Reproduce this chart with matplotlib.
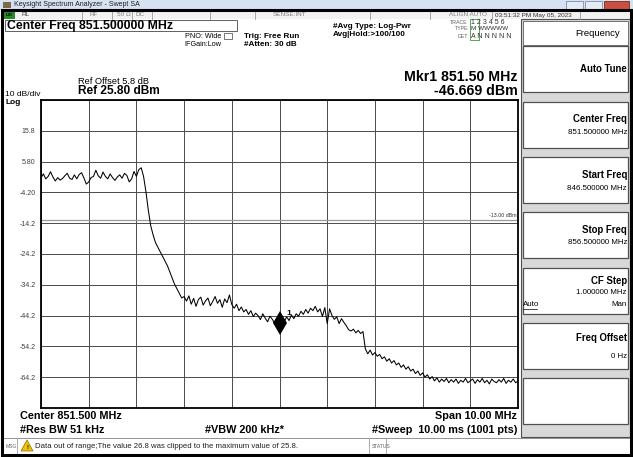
import matplotlib.pyplot as plt
from matplotlib.patches import Rectangle, Polygon
import numpy as np

W, H = 633, 457

START_MHZ = 846.5
STOP_MHZ = 856.5
REF_DBM = 25.8
DB_DIV = 10
Y_LABELS = ["", "15.8", "5.80", "-4.20", "-14.2", "-24.2", "-34.2", "-44.2", "-54.2", "-64.2", ""]
DISPLAY_LINE = -13.0
MKR_FREQ = 851.5
MKR_DBM = -46.669

# trace, 0.05 MHz steps
TRACE_DBM = [
    0.5, 1.8, 0.2, 1.0, 2.5, 0.8, -0.5, 0.6, -0.2, 0.3,
    1.2, 2.0, 0.4, 0.0, 1.5, 0.2, 1.6, 2.2, 0.5, -1.5,
    -0.8, 0.6, 1.0, 3.0, 1.2, 0.4, 2.4, 1.0, 0.2, 1.8,
    0.6, -0.3, 0.8, 1.5, 0.4, 2.0, 1.3, -0.8, 0.2, 2.6,
    1.0, 3.2, 3.8,
    1.0, -4.0, -10.0, -15.0, -18.0, -20.5, -22.0, -23.5, -25.0, -26.5,
    -28.0, -30.0, -32.0, -34.0, -35.5, -37.0, -38.5, -38.0,
    -39.5, -37.8, -40.5, -38.6, -41.2, -39.0, -38.2, -40.8, -39.4, -38.5,
    -41.0, -39.6, -38.0, -40.2, -39.0, -41.5, -38.8, -40.0, -37.5, -40.6,
    -41.8, -40.5, -42.6, -41.4, -43.0, -42.2, -43.8, -42.6, -44.5, -43.4,
    -44.2, -45.5, -43.6, -45.0, -46.2, -44.4, -45.4, -46.8, -45.2, -46.7,
    -45.0, -46.2, -44.6, -45.8, -44.0, -45.2, -43.6, -44.4, -42.8, -43.8,
    -42.2, -43.4, -41.8, -42.6, -41.2, -43.0, -42.0, -44.5, -41.6, -46.8,
    -42.0, -44.2, -45.4, -44.6, -46.8, -45.2, -46.4, -47.5, -48.8, -49.2,
    -48.6, -49.8, -49.0, -50.0, -49.4, -55.0, -56.6, -55.4, -57.0, -56.2,
    -57.4, -56.8, -58.2, -57.6, -59.0, -58.2, -59.6, -58.8, -60.2, -59.6,
    -61.0, -60.2, -61.6, -60.8, -62.2, -61.6, -63.0, -62.2, -63.6, -62.8,
    -64.2, -63.4, -64.8, -64.0, -65.4, -64.4, -65.8, -64.8, -65.6, -64.6,
    -66.0, -65.0, -65.8, -64.8, -66.2, -65.2, -65.8, -64.6, -66.0, -65.4,
    -64.8, -66.2, -65.0, -65.8, -64.6, -66.0, -65.2, -66.4, -64.8, -65.6,
    -66.0, -65.0, -65.8, -64.6, -66.2, -65.2, -65.8, -64.8, -66.0, -65.4,
]

plt.rcParams["font.family"] = ["Liberation Sans", "DejaVu Sans"]


def text(fig, x, y, s, size=6.0, ha="left", va="center", weight="normal", color="black"):
    fig.text(x / W, 1 - y / H, s, fontsize=size, ha=ha, va=va, weight=weight, color=color)


def box(fig, x0, y0, x1, y1, fc="white", ec="#808080", lw=0.8, z=0):
    fig.add_artist(Rectangle((x0 / W, 1 - y1 / H), (x1 - x0) / W, (y1 - y0) / H,
                             transform=fig.transFigure, fc=fc, ec=ec, lw=lw, zorder=z))


def vline(fig, x, y0, y1, color="#9a9a9a", lw=0.6):
    fig.add_artist(plt.Line2D([x / W, x / W], [1 - y0 / H, 1 - y1 / H],
                              transform=fig.transFigure, color=color, lw=lw))


def draw_frame(fig):
    # window title bar
    box(fig, 0, 0, W, 10, fc="#d6e2f2", ec="none")
    box(fig, 3, 2, 11, 8, fc="#7a6a4a", ec="none")
    text(fig, 14, 5, "Keysight Spectrum Analyzer - Swept SA", size=5.0, color="#202020")
    box(fig, 566, 1, 583, 9, fc="#e4ebf5", ec="#7d8ea8", lw=0.6)
    box(fig, 585, 1, 602, 9, fc="#e4ebf5", ec="#7d8ea8", lw=0.6)
    box(fig, 604, 1, 629, 9, fc="#c9503f", ec="#7a2a20", lw=0.6)

    # outer black border of the instrument screen
    box(fig, 2, 10, 631, 455, fc="none", ec="black", lw=2.2, z=5)

    # status row
    box(fig, 4, 11, 630, 19, fc="#f2f2f2", ec="none")
    box(fig, 4, 11, 15, 19, fc="#2a8a2a", ec="none")
    text(fig, 9.5, 15, "LXI", size=3.2, ha="center", color="black", weight="bold")
    for xs in [82, 112, 132, 152, 210, 255, 370, 430, 492, 580]:
        vline(fig, xs, 11, 19)
    text(fig, 22, 15, "RL", size=4.6, color="#404040")
    text(fig, 89, 15, "RF", size=4.6, color="#808080")
    text(fig, 117, 15, "50 Ω", size=4.6, color="#808080")
    text(fig, 136, 15, "DC", size=4.6, color="#808080")
    text(fig, 306, 15, "SENSE:INT", size=4.6, ha="right", color="#808080")
    text(fig, 487, 15, "ALIGN AUTO", size=4.6, ha="right", color="#808080")
    text(fig, 495, 15, "03:51:32 PM May 05, 2023", size=4.6, color="#303030")

    # center freq banner
    box(fig, 5, 20, 237, 31, fc="white", ec="#606060", lw=0.7)
    text(fig, 7, 25.5, "Center Freq 851.500000 MHz", size=8.8, weight="bold")

    text(fig, 221, 36, "PNO: Wide", size=5.2, ha="right")
    text(fig, 221, 44, "IFGain:Low", size=5.2, ha="right")
    box(fig, 224, 33, 232, 39, fc="white", ec="#404040", lw=0.5)
    text(fig, 244, 36, "Trig: Free Run", size=5.9, weight="bold")
    text(fig, 244, 44, "#Atten: 30 dB", size=5.9, weight="bold")
    text(fig, 333, 26, "#Avg Type: Log-Pwr", size=5.9, weight="bold")
    text(fig, 333, 35, "Avg|Hold:>100/100", size=5.9, weight="bold")

    text(fig, 468, 22, "TRACE", size=3.8, ha="right", color="#606060")
    text(fig, 468, 29, "TYPE", size=3.8, ha="right", color="#606060")
    text(fig, 468, 36, "DET", size=3.8, ha="right", color="#606060")
    box(fig, 470, 19, 479, 40, fc="none", ec="#3a9a3a", lw=0.6)
    text(fig, 471, 22, "1 2 3 4 5 6", size=5.0, color="#303030")
    text(fig, 471, 29, "M WWWWW", size=4.6, color="#303030")
    text(fig, 471, 36, "A N N N N N", size=5.0, color="#303030")

    text(fig, 518, 77, "Mkr1 851.50 MHz", size=10.2, ha="right", weight="bold")
    text(fig, 518, 91, "-46.669 dBm", size=10.2, ha="right", weight="bold")

    text(fig, 78, 82, "Ref Offset 5.8 dB", size=6.7)
    text(fig, 78, 91, "Ref 25.80 dBm", size=8.6, weight="bold")
    text(fig, 5, 94, "10 dB/div", size=6.0)
    text(fig, 5, 102.5, "Log", size=6.0, weight="bold")

    # bottom annotation
    text(fig, 20, 416, "Center 851.500 MHz", size=7.8, weight="bold")
    text(fig, 20, 430, "#Res BW 51 kHz", size=7.8, weight="bold")
    text(fig, 205, 430, "#VBW 200 kHz*", size=7.8, weight="bold")
    text(fig, 517, 416, "Span 10.00 MHz", size=7.8, ha="right", weight="bold")
    text(fig, 517, 430, "#Sweep  10.00 ms (1001 pts)", size=7.8, ha="right", weight="bold")

    # message bar
    box(fig, 4, 438, 630, 454, fc="white", ec="none")
    fig.add_artist(plt.Line2D([4 / W, 630 / W], [1 - 438 / H, 1 - 438 / H],
                              transform=fig.transFigure, color="#808080", lw=0.6))
    for xs in [17, 369, 386]:
        vline(fig, xs, 438, 454, color="#a0a0a0")
    text(fig, 6, 446, "MSG", size=3.6, color="#606060")
    fig.add_artist(Polygon([(21 / W, 1 - 451 / H), (33 / W, 1 - 451 / H), (27 / W, 1 - 440 / H)],
                           closed=True, transform=fig.transFigure, fc="#f2c200", ec="#8a6a00", lw=0.5))
    text(fig, 27, 447.5, "!", size=4.5, ha="center", weight="bold")
    text(fig, 35, 446, "Data out of range;The value 26.8 was clipped to the maximum value of 25.8.",
         size=5.6, color="#202020")
    text(fig, 372, 446, "STATUS", size=3.6, color="#606060")

    # softkey panel
    box(fig, 521, 19, 630, 437, fc="#d8d8d8", ec="#505050", lw=0.8)
    box(fig, 523, 21, 628, 45, fc="white", ec="#707070", lw=0.7)
    text(fig, 575, 33, "Frequency", size=6.8)
    keys = [
        (46, 92, ["Auto Tune"], [69]),
        (102, 148, ["Center Freq", "851.500000 MHz"], [119, 132]),
        (157, 203, ["Start Freq", "846.500000 MHz"], [175, 188]),
        (212, 258, ["Stop Freq", "856.500000 MHz"], [230, 243]),
        (268, 314, ["CF Step", "1.000000 MHz"], [281, 293]),
        (323, 369, ["Freq Offset", "0 Hz"], [338, 356]),
        (378, 424, [], []),
    ]
    for y0, y1, lines, ys in keys:
        box(fig, 523, y0, 628, y1, fc="white", ec="#505050", lw=0.9)
        for i, (s, yy) in enumerate(zip(lines, ys)):
            if i == 0:
                text(fig, 627, yy, s, size=6.9, ha="right", weight="bold")
            else:
                text(fig, 627, yy, s, size=5.7, ha="right")
    text(fig, 523, 305, "Auto", size=5.7)
    fig.add_artist(plt.Line2D([523 / W, 537 / W], [1 - 309 / H, 1 - 309 / H],
                              transform=fig.transFigure, color="black", lw=0.5))
    text(fig, 627, 305, "Man", size=5.7, ha="right")


def draw_trace(fig):
    ax = fig.add_axes([41 / W, 1 - 408 / H, 477 / W, 308 / H])
    ax.set_facecolor("white")
    bottom = REF_DBM - 10 * DB_DIV
    ax.set_xlim(START_MHZ, STOP_MHZ)
    ax.set_ylim(bottom, REF_DBM)

    ax.set_xticks(np.linspace(START_MHZ, STOP_MHZ, 11))
    ax.set_xticklabels([])
    ax.set_yticks(np.linspace(REF_DBM, bottom, 11))
    ax.set_yticklabels(Y_LABELS, fontsize=5.0, color="#404040")
    ax.tick_params(length=0, pad=4)
    ax.grid(True, color="#4a4a4a", lw=0.7)
    for s in ax.spines.values():
        s.set_color("black")
        s.set_linewidth(1.3)

    ax.axhline(DISPLAY_LINE, color="#9a9a9a", lw=0.9)
    ax.text(STOP_MHZ - 0.02, DISPLAY_LINE + 0.4, "-13.00 dBm", fontsize=3.8,
            ha="right", va="bottom", color="#303030")

    freqs = np.linspace(START_MHZ, STOP_MHZ, len(TRACE_DBM))
    ax.plot(freqs, TRACE_DBM, color="black", lw=0.75)

    ax.plot([MKR_FREQ], [MKR_DBM], marker="d", ms=12, color="black", mew=0)
    ax.text(MKR_FREQ + 0.15, MKR_DBM + 2.8, "1", fontsize=6, weight="bold")
    return ax


def main():
    fig = plt.figure(figsize=(W / 100, H / 100), dpi=100)
    fig.patch.set_facecolor("white")
    draw_frame(fig)
    draw_trace(fig)
    fig.savefig("out.png", dpi=100)
    plt.close(fig)


if __name__ == "__main__":
    main()
